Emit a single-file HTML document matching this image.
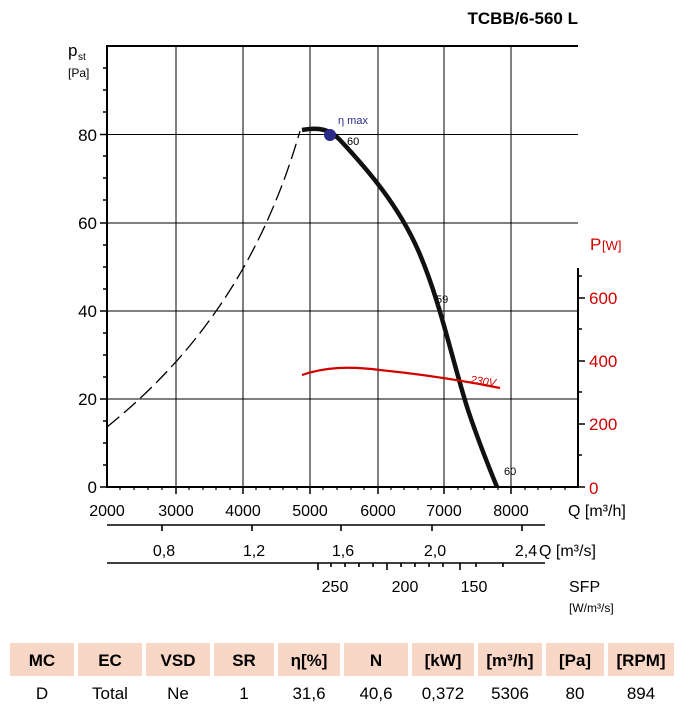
<!DOCTYPE html><html><head><style>body{margin:0;background:#fff;width:682px;height:705px;overflow:hidden;font-family:"Liberation Sans",sans-serif}</style></head><body>
<svg width="682" height="705" viewBox="0 0 682 705" font-family="Liberation Sans, sans-serif">
<text x="578" y="24" font-size="17" font-weight="bold" text-anchor="end">TCBB/6-560 L</text>
<g stroke="#000" stroke-width="1">
<line x1="176" y1="46" x2="176" y2="487"/><line x1="243" y1="46" x2="243" y2="487"/><line x1="310" y1="46" x2="310" y2="487"/><line x1="378" y1="46" x2="378" y2="487"/><line x1="444" y1="46" x2="444" y2="487"/><line x1="511" y1="46" x2="511" y2="487"/>
<line x1="107" y1="134.5" x2="578" y2="134.5"/><line x1="107" y1="223" x2="578" y2="223"/><line x1="107" y1="311" x2="578" y2="311"/><line x1="107" y1="399" x2="578" y2="399"/>
</g>
<g stroke="#000" stroke-width="2" fill="none">
<polyline points="107,46 578,46"/><line x1="107" y1="45" x2="107" y2="488"/><line x1="106" y1="487" x2="579" y2="487"/><line x1="578" y1="268" x2="578" y2="488"/>
</g>
<g stroke="#000" stroke-width="1.5">
<line x1="100" y1="487" x2="107" y2="487"/><line x1="100" y1="399" x2="107" y2="399"/><line x1="100" y1="311" x2="107" y2="311"/><line x1="100" y1="223" x2="107" y2="223"/><line x1="100" y1="134.5" x2="107" y2="134.5"/>
<line x1="103" y1="68" x2="107" y2="68"/><line x1="103" y1="90" x2="107" y2="90"/><line x1="103" y1="112" x2="107" y2="112"/><line x1="103" y1="156" x2="107" y2="156"/><line x1="103" y1="178" x2="107" y2="178"/><line x1="103" y1="200" x2="107" y2="200"/><line x1="103" y1="245" x2="107" y2="245"/><line x1="103" y1="267" x2="107" y2="267"/><line x1="103" y1="289" x2="107" y2="289"/><line x1="103" y1="333" x2="107" y2="333"/><line x1="103" y1="355" x2="107" y2="355"/><line x1="103" y1="377" x2="107" y2="377"/><line x1="103" y1="421" x2="107" y2="421"/><line x1="103" y1="443" x2="107" y2="443"/><line x1="103" y1="465" x2="107" y2="465"/>
<line x1="578" y1="487" x2="585" y2="487"/><line x1="578" y1="424" x2="585" y2="424"/><line x1="578" y1="361" x2="585" y2="361"/><line x1="578" y1="298" x2="585" y2="298"/>
<line x1="578" y1="455" x2="582" y2="455"/><line x1="578" y1="392" x2="582" y2="392"/><line x1="578" y1="329" x2="582" y2="329"/><line x1="578" y1="276" x2="582" y2="276"/>
<line x1="176" y1="487" x2="176" y2="494"/><line x1="243" y1="487" x2="243" y2="494"/><line x1="310" y1="487" x2="310" y2="494"/><line x1="378" y1="487" x2="378" y2="494"/><line x1="444" y1="487" x2="444" y2="494"/><line x1="511" y1="487" x2="511" y2="494"/>
</g>
<g stroke="#000" stroke-width="1.2">
<path d="M120,487v3M134,487v3M148,487v3M162,487v3M189,487v3M203,487v3M216,487v3M230,487v3M256,487v3M270,487v3M283,487v3M297,487v3M323,487v3M337,487v3M351,487v3M364,487v3M391,487v3M404,487v3M418,487v3M431,487v3M458,487v3M471,487v3M484,487v3M498,487v3M525,487v3M538,487v3M551,487v3M565,487v3"/>
</g>
<g font-size="17" text-anchor="end"><text x="97" y="493">0</text><text x="97" y="405">20</text><text x="97" y="317">40</text><text x="97" y="229">60</text><text x="97" y="141">80</text></g>
<text x="68" y="56" font-size="17">p</text><text x="78" y="60" font-size="10">st</text><text x="68" y="77" font-size="12">[Pa]</text>
<g font-size="17" fill="#d10000"><text x="589" y="494">0</text><text x="589" y="430">200</text><text x="589" y="367">400</text><text x="589" y="304">600</text><text x="590" y="250">P</text><text x="602" y="250" font-size="13">[W]</text></g>
<g font-size="16" text-anchor="middle"><text x="107" y="516">2000</text><text x="176" y="516">3000</text><text x="243" y="516">4000</text><text x="310" y="516">5000</text><text x="378" y="516">6000</text><text x="444" y="516">7000</text><text x="511" y="516">8000</text></g>
<text x="568" y="516" font-size="16">Q [m³/h]</text>
<g stroke="#000" stroke-width="1.6"><line x1="107" y1="525" x2="545" y2="525"/><line x1="162" y1="525" x2="162" y2="531"/><line x1="252" y1="525" x2="252" y2="531"/><line x1="341" y1="525" x2="341" y2="531"/><line x1="432" y1="525" x2="432" y2="531"/><line x1="522" y1="525" x2="522" y2="531"/>
<line x1="107" y1="563" x2="545" y2="563"/><line x1="318" y1="563" x2="318" y2="570"/><line x1="387" y1="563" x2="387" y2="570"/><line x1="460" y1="563" x2="460" y2="570"/>
<path d="M331,563v4M345,563v4M359,563v4M373,563v4M401,563v4M415,563v4M429,563v4M443,563v4M476,563v4M503,563v4"/></g>
<g font-size="16" text-anchor="middle"><text x="164" y="556">0,8</text><text x="254" y="556">1,2</text><text x="343" y="556">1,6</text><text x="435" y="556">2,0</text><text x="526" y="556">2,4</text></g>
<text x="539" y="556" font-size="16">Q [m³/s]</text>
<g font-size="16" text-anchor="middle"><text x="335" y="592">250</text><text x="405" y="592">200</text><text x="474" y="592">150</text></g>
<text x="569" y="592" font-size="16">SFP</text><text x="569" y="612" font-size="12">[W/m³/s]</text>
<path d="M107,427 C190,360 260,270 300,131" stroke="#000" stroke-width="1.3" fill="none" stroke-dasharray="16,6"/>
<path d="M302,130 C318,127 330,129 340,140 C368,170 398,205 418,250 C440,300 452,360 468,410 C478,440 488,465 497,487" stroke="#111" stroke-width="4.5" fill="none"/>
<path d="M302,375 C325,367 350,366 380,370 C420,374 460,380 500,388" stroke="#d10000" stroke-width="2.2" fill="none"/>
<text x="470" y="383" font-size="11" fill="#d10000" transform="rotate(8 470 383)" font-style="italic">230V</text>
<circle cx="330" cy="135" r="6" fill="#2b2b8a"/>
<text x="338" y="124" font-size="11" fill="#2b2b8a">η max</text>
<text x="347" y="145" font-size="11">60</text><text x="436" y="303" font-size="11">59</text><text x="504" y="475" font-size="11">60</text>
<g fill="#f9d7c6"><rect x="10" y="643" width="64" height="33"/><rect x="78" y="643" width="64" height="33"/><rect x="146" y="643" width="64" height="33"/><rect x="214" y="643" width="60" height="33"/><rect x="278" y="643" width="62" height="33"/><rect x="344" y="643" width="64" height="33"/><rect x="412" y="643" width="62" height="33"/><rect x="478" y="643" width="64" height="33"/><rect x="546" y="643" width="58" height="33"/><rect x="608" y="643" width="66" height="33"/></g>
<g font-size="17" font-weight="bold" text-anchor="middle"><text x="42" y="666">MC</text><text x="110" y="666">EC</text><text x="178" y="666">VSD</text><text x="244" y="666">SR</text><text x="309" y="666">η[%]</text><text x="376" y="666">N</text><text x="443" y="666">[kW]</text><text x="510" y="666">[m³/h]</text><text x="575" y="666">[Pa]</text><text x="641" y="666">[RPM]</text></g>
<g font-size="17" text-anchor="middle"><text x="42" y="699">D</text><text x="110" y="699">Total</text><text x="178" y="699">Ne</text><text x="244" y="699">1</text><text x="309" y="699">31,6</text><text x="376" y="699">40,6</text><text x="443" y="699">0,372</text><text x="510" y="699">5306</text><text x="575" y="699">80</text><text x="641" y="699">894</text></g>
</svg></body></html>
